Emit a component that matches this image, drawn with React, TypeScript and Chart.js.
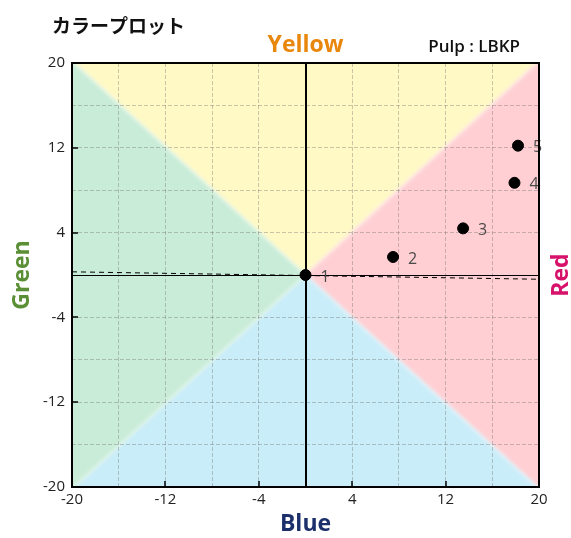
import React, { useEffect, useRef } from "react";
import { Chart, registerables } from "chart.js";

Chart.register(...registerables);

const pointLabels = ["1", "2", "3", "4", "5"];
const pointX = [0, 7.5, 13.5, 17.9, 18.2];
const pointY = [0, 1.7, 4.4, 8.7, 12.2];
const trendX = [-20, 20];
const trendY = [0.3, -0.4];
const axisMin = -20;
const axisMax = 20;
const tickStep = 4;
const labelledTicks = [-20, -12, -4, 4, 12, 20];

const LATIN = "'Open Sans', 'Noto Sans', sans-serif";
const CJK = "'Noto Sans CJK JP', sans-serif";

const bgPlugin = {
  id: "bgPlugin",
  beforeDraw(chart: any) {
    const { ctx, chartArea: a, scales } = chart;
    const ox = scales.x.getPixelForValue(0);
    const oy = scales.y.getPixelForValue(0);
    ctx.save();
    ctx.beginPath();
    ctx.rect(a.left, a.top, a.right - a.left, a.bottom - a.top);
    ctx.clip();
    ctx.filter = "blur(2px)";
    const tri = (pts: number[][], color: string) => {
      ctx.beginPath();
      ctx.moveTo(ox, oy);
      pts.forEach((p) => ctx.lineTo(p[0], p[1]));
      ctx.closePath();
      ctx.fillStyle = color;
      ctx.fill();
    };
    const m = 20;
    tri([[a.left - m, a.top - m], [a.right + m, a.top - m]], "#fff9c6");
    tri([[a.right + m, a.top - m], [a.right + m, a.bottom + m]], "#ffcfd3");
    tri([[a.right + m, a.bottom + m], [a.left - m, a.bottom + m]], "#c9edf9");
    tri([[a.left - m, a.bottom + m], [a.left - m, a.top - m]], "#c8ecd7");
    ctx.restore();
  },
  beforeDatasetsDraw(chart: any) {
    const { ctx, chartArea: a, scales } = chart;
    const ox = scales.x.getPixelForValue(0);
    const oy = scales.y.getPixelForValue(0);
    ctx.save();
    ctx.strokeStyle = "#000";
    ctx.lineWidth = 1;
    ctx.beginPath();
    ctx.moveTo(a.left, Math.round(oy) + 0.5);
    ctx.lineTo(a.right, Math.round(oy) + 0.5);
    ctx.stroke();
    ctx.lineWidth = 2;
    ctx.beginPath();
    ctx.moveTo(Math.round(ox), a.top);
    ctx.lineTo(Math.round(ox), a.bottom);
    ctx.stroke();
    ctx.lineWidth = 1.5;
    labelledTicks.forEach((v) => {
      if (v === axisMin || v === axisMax) return;
      const px = Math.round(scales.x.getPixelForValue(v));
      ctx.beginPath();
      ctx.moveTo(px, a.bottom);
      ctx.lineTo(px, a.bottom - 6);
      ctx.stroke();
      const py = Math.round(scales.y.getPixelForValue(v));
      ctx.beginPath();
      ctx.moveTo(a.left, py);
      ctx.lineTo(a.left + 6, py);
      ctx.stroke();
    });
    ctx.restore();
  },
  afterDatasetsDraw(chart: any) {
    const { ctx, chartArea: a, scales } = chart;
    ctx.save();
    ctx.fillStyle = "#4a4a4a";
    ctx.font = `16px ${LATIN}`;
    ctx.textAlign = "left";
    ctx.textBaseline = "middle";
    pointLabels.forEach((t, i) => {
      const px = scales.x.getPixelForValue(pointX[i]);
      const py = scales.y.getPixelForValue(pointY[i]);
      ctx.fillText(t, px + 15, py + 2);
    });
    ctx.strokeStyle = "#000";
    ctx.lineWidth = 2;
    ctx.strokeRect(a.left, a.top, a.right - a.left, a.bottom - a.top);
    ctx.restore();
  },
  afterDraw(chart: any) {
    const { ctx, chartArea: a } = chart;
    const cx = (a.left + a.right) / 2;
    const cy = (a.top + a.bottom) / 2;
    ctx.save();
    ctx.textBaseline = "middle";
    ctx.fillStyle = "#111";
    ctx.font = `bold 19px ${CJK}`;
    ctx.textAlign = "left";
    ctx.fillText("カラープロット", 52, 26);
    ctx.font = `600 17px ${LATIN}`;
    ctx.textAlign = "right";
    ctx.fillText("Pulp : LBKP", 520, 47);
    ctx.textAlign = "center";
    ctx.font = `bold 23px ${LATIN}`;
    ctx.fillStyle = "#e8870c";
    ctx.fillText("Yellow", cx, 45);
    ctx.fillStyle = "#1b2f6b";
    ctx.fillText("Blue", cx, 524);
    ctx.save();
    ctx.translate(22, cy);
    ctx.rotate(-Math.PI / 2);
    ctx.fillStyle = "#5b8f35";
    ctx.fillText("Green", 0, 0);
    ctx.restore();
    ctx.save();
    ctx.translate(561, cy);
    ctx.rotate(-Math.PI / 2);
    ctx.fillStyle = "#d6126a";
    ctx.fillText("Red", 0, 0);
    ctx.restore();
    ctx.restore();
  },
};

export default function App() {
  const ref = useRef<HTMLCanvasElement | null>(null);
  useEffect(() => {
    if (!ref.current) return;
    const tickCb = (v: any) => {
      const n = Number(v);
      return labelledTicks.includes(n) ? String(n) : "";
    };
    const grid = {
      color: "rgba(110,110,110,0.38)",
      lineWidth: 1,
      drawTicks: false,
      tickLength: 0,
    };
    const chart = new Chart(ref.current, {
      type: "scatter",
      data: {
        datasets: [
          {
            type: "line",
            data: trendX.map((x, i) => ({ x, y: trendY[i] })),
            borderColor: "#000",
            borderWidth: 1,
            borderDash: [5, 4],
            pointRadius: 0,
            fill: false,
          } as any,
          {
            data: pointX.map((x, i) => ({ x, y: pointY[i] })),
            backgroundColor: "#000",
            borderColor: "#000",
            pointRadius: 5.5,
          },
        ],
      },
      options: {
        responsive: false,
        animation: false,
        layout: { padding: { left: 0, right: 32, top: 63, bottom: 0 } },
        plugins: { legend: { display: false }, tooltip: { enabled: false }, title: { display: false } },
        scales: {
          x: {
            type: "linear",
            min: axisMin,
            max: axisMax,
            grid: { ...grid },
            border: { display: false, dash: [4, 2] },
            ticks: {
              stepSize: tickStep,
              autoSkip: false,
              maxRotation: 0,
              padding: 4,
              color: "#222",
              font: { size: 15, family: LATIN },
              callback: tickCb,
            },
            afterFit: (s: any) => {
              s.height = 51;
            },
          },
          y: {
            type: "linear",
            min: axisMin,
            max: axisMax,
            grid: { ...grid },
            border: { display: false, dash: [4, 2] },
            ticks: {
              stepSize: tickStep,
              autoSkip: false,
              padding: 7,
              color: "#222",
              font: { size: 15, family: LATIN },
              callback: tickCb,
            },
            afterFit: (s: any) => {
              s.width = 72;
            },
          },
        },
      },
      plugins: [bgPlugin],
    });
    return () => chart.destroy();
  }, []);
  return (
    <div style={{ position: "fixed", left: 0, top: 0, width: 571, height: 538, background: "#fff" }}>
      <canvas ref={ref} width={571} height={538} />
    </div>
  );
}
